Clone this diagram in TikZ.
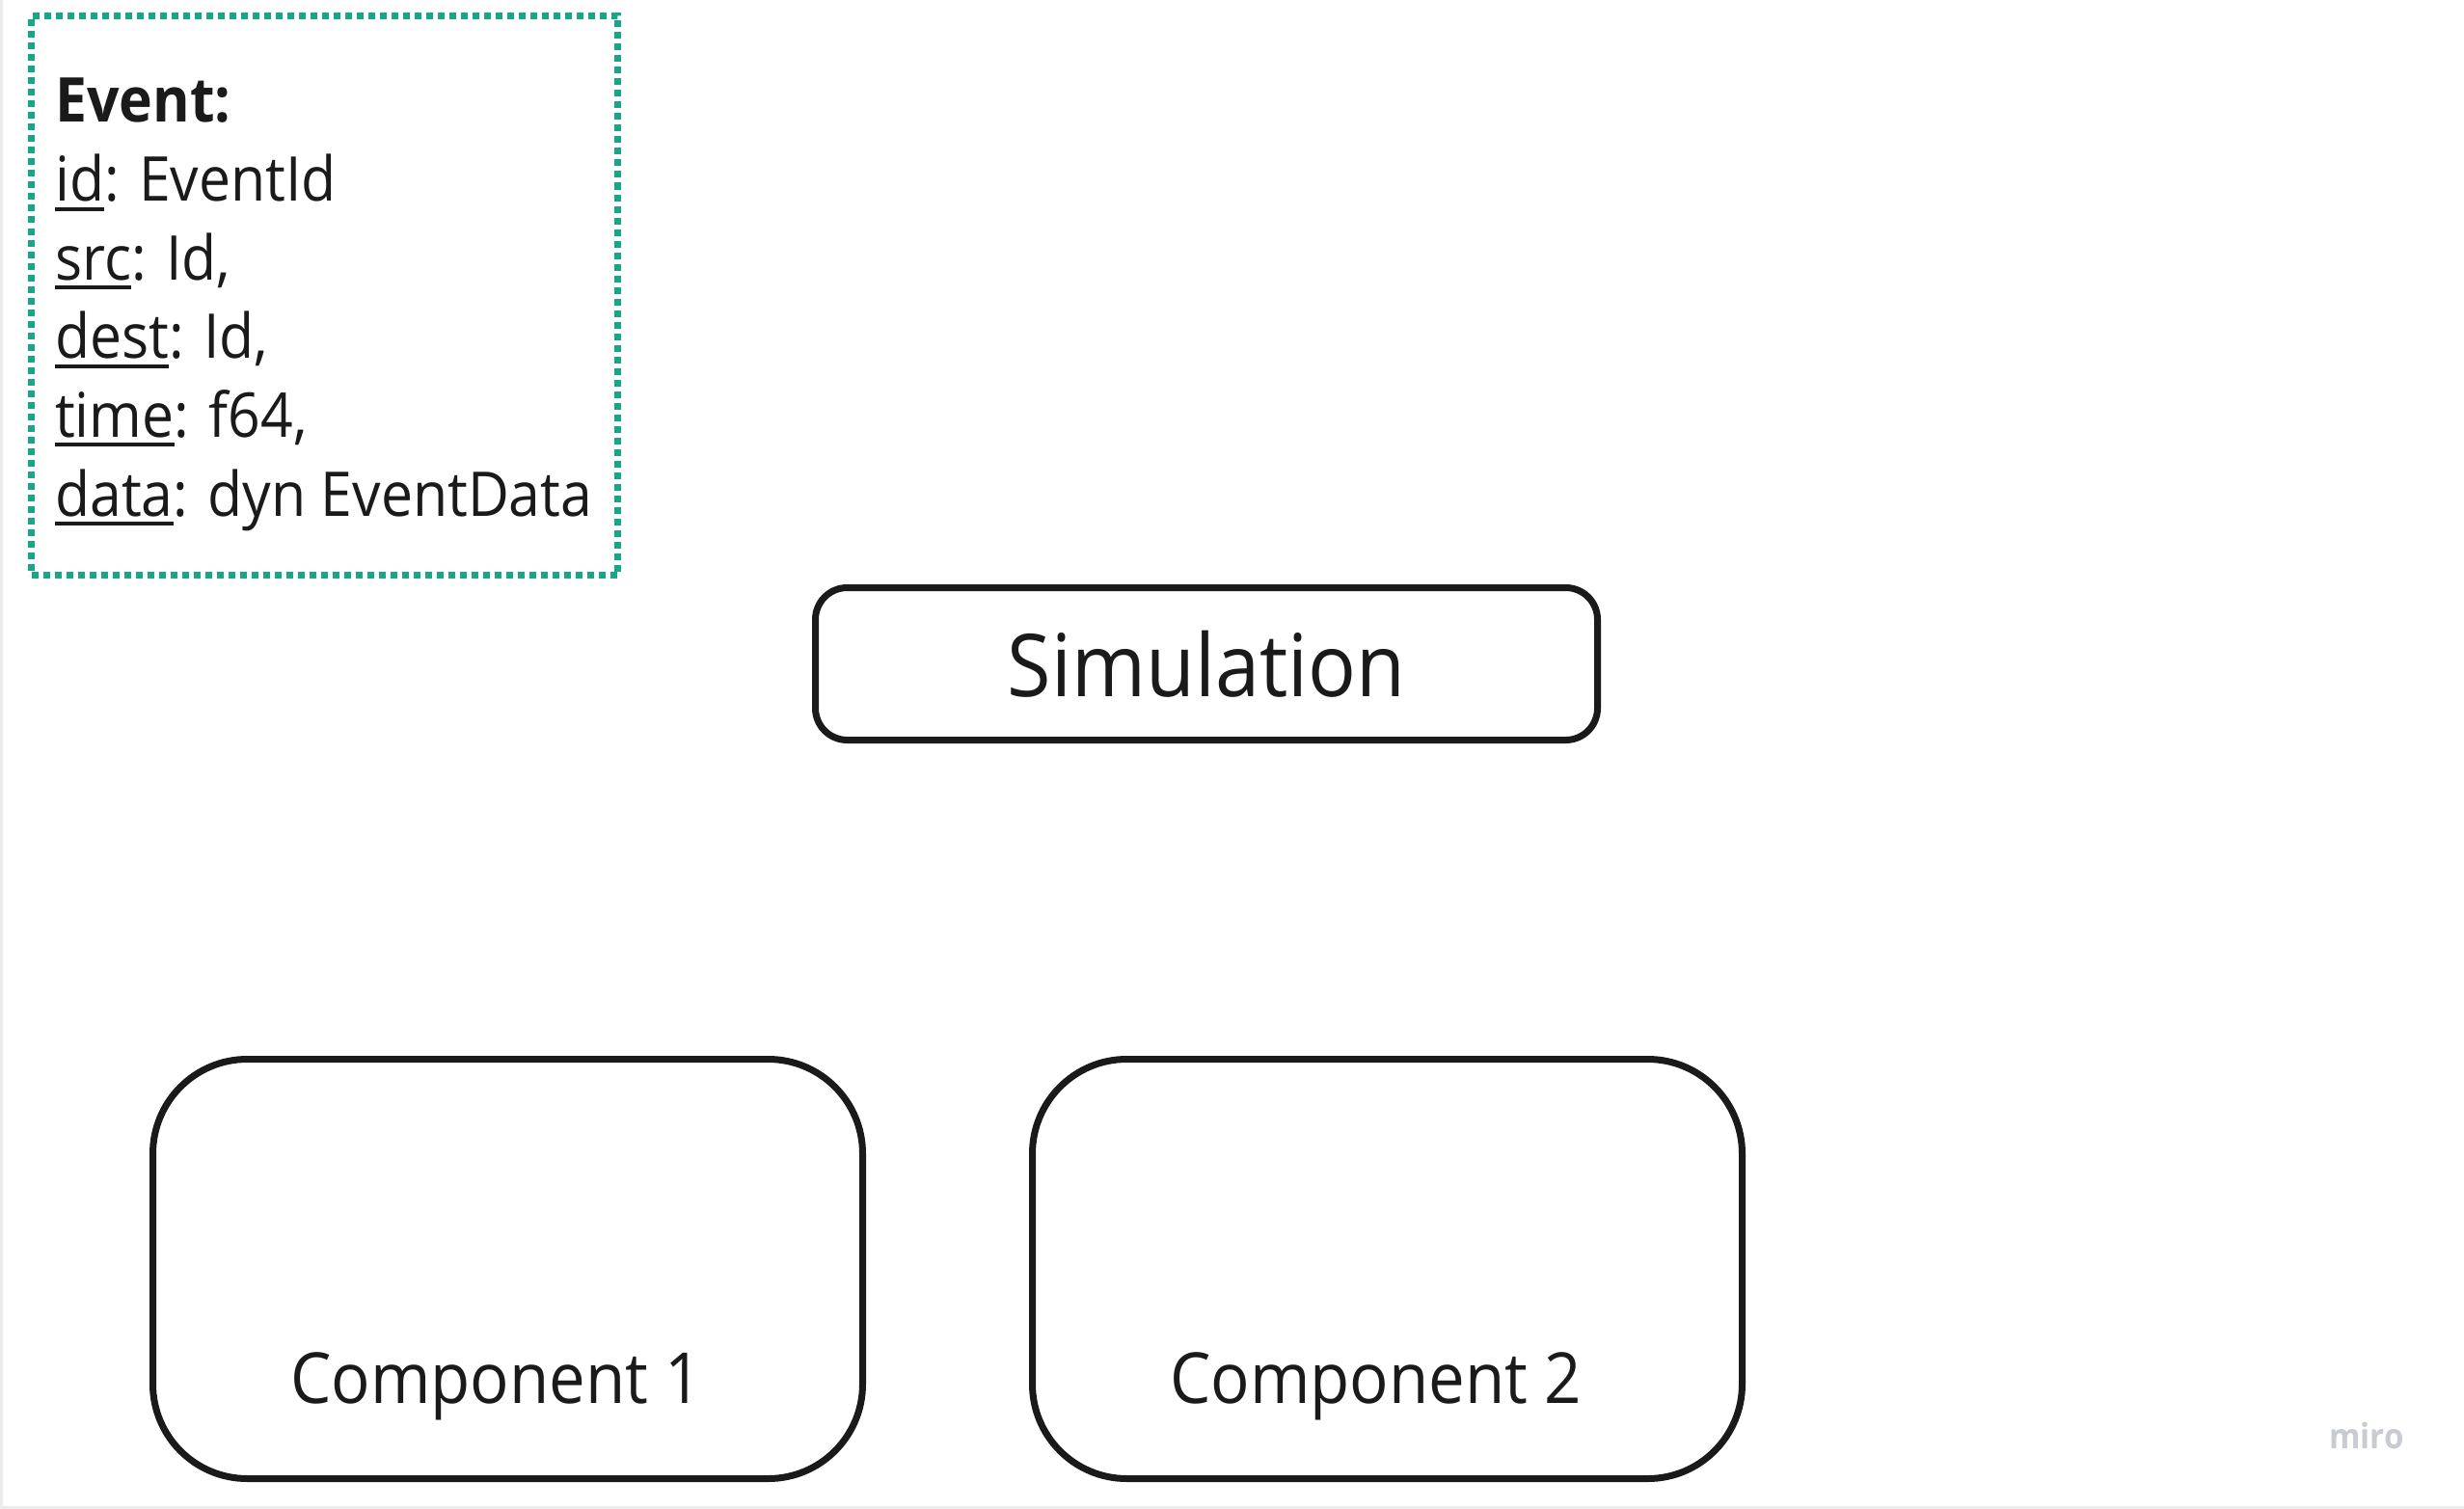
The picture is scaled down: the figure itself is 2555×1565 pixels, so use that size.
\documentclass[tikz,border=0pt]{standalone}
\usepackage{fontspec}
\setmainfont{Open Sans}[FakeStretch=0.92]
\definecolor{evtGreen}{HTML}{16A688}
\definecolor{boxInk}{HTML}{1A1A1A}
\definecolor{miroGray}{HTML}{C9CBD3}
\definecolor{edgeGray}{HTML}{ECECEC}
\newcommand\ulname[1]{\leavevmode\setbox0\hbox{#1}\rlap{\rule[-10pt]{\wd0}{4pt}}\box0}

\begin{document}
\begin{tikzpicture}[x=1pt, y=-1pt,
  eventbox/.style={draw=evtGreen, line width=7pt, dash pattern=on 7pt off 5pt,
    minimum width=608pt, minimum height=580pt, inner sep=0pt},
  simbox/.style={draw=boxInk, line width=7pt, rounded corners=33pt,
    minimum width=811pt, minimum height=158pt, inner sep=0pt,
    font=\fontsize{90}{104}\selectfont, text=boxInk},
  compbox/.style={draw=boxInk, line width=7pt, rounded corners=98pt,
    minimum width=736pt, minimum height=435pt, inner sep=0pt},
  complabel/.style={anchor=base, inner sep=0pt, font=\fontsize{73}{86}\selectfont, text=boxInk},
  fieldline/.style={anchor=base west, inner sep=0pt, font=\fontsize{64}{80}\selectfont, text=boxInk}]
\useasboundingbox (0,0) rectangle (2555,1565);
% frame edges
\draw[edgeGray, line width=3pt] (1.5,0) -- (1.5,1563.5) -- (2555,1563.5);
% event record
\node[eventbox] (event) at (336.5,306.5) {};
\node[fieldline, font=\fontsize{64}{80}\selectfont\bfseries] (evtTitle) at (57,127) {Event:};
\foreach \fname/\ftype [count=\i] in {id/EventId, src/{Id,}, dest/{Id,}, time/{f64,}, data/dyn EventData}
  \node[fieldline] (field\i) at (57,127+81.6*\i) {\ulname{\fname}: \ftype};
% simulation
\node[simbox] (sim) at (1251,688.5) {Simulation};
% components
\node[compbox] (comp1) at (526.5,1316) {};
\node[compbox] (comp2) at (1438.5,1316) {};
\node[complabel] (comp1lbl) at ([xshift=-12pt, yshift=82pt]comp1.south) {Component 1};
\node[complabel] (comp2lbl) at ([xshift=-12pt, yshift=82pt]comp2.south) {Component 2};
% watermark
\node[anchor=base west, inner sep=0pt, text=miroGray, font=\fontsize{36}{40}\selectfont\bfseries] (miroMark) at (2415,1502) {miro};
\end{tikzpicture}
\end{document}
